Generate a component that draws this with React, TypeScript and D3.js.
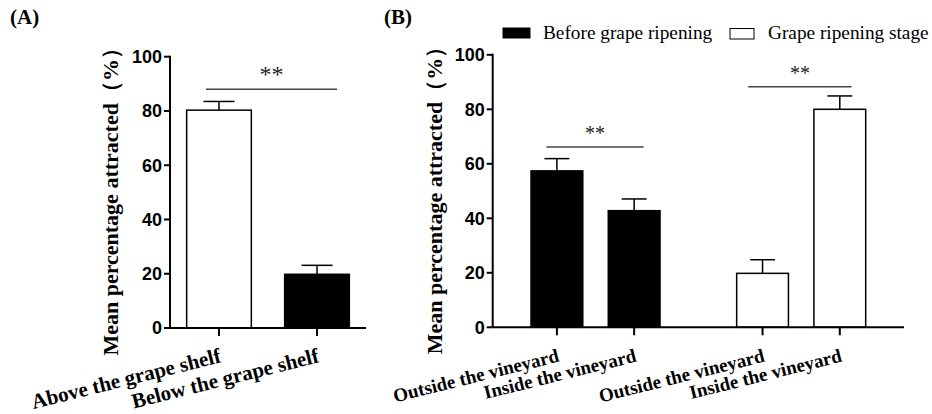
import * as d3 from 'd3';

// Panel A
const shelfCats = ['Above the grape shelf', 'Below the grape shelf'];
const shelfMeans = [80.3, 19.8];
const shelfErr = [3.2, 3.3];
const shelfFill = ['#fff', '#000'];

// Panel B
const stages = ['Before grape ripening', 'Grape ripening stage'];
const locations = ['Outside the vineyard', 'Inside the vineyard'];
const beforeMeans = [57.4, 42.8];
const beforeErr = [4.5, 4.3];
const ripeMeans = [19.8, 80.0];
const ripeErr = [5.0, 4.9];
const stageFill = ['#000', '#fff'];

const yTicks = [0, 20, 40, 60, 80, 100];

const SERIF = '"Liberation Serif", "Times New Roman", serif';
const SANS = '"Liberation Sans", Arial, sans-serif';

type Y = d3.ScaleLinear<number, number>;

function YAxis({ x0, y, labelX }: { x0: number; y: Y; labelX: number }) {
  return (
    <g>
      <line x1={x0} x2={x0} y1={y(100) - 1} y2={y(0)} stroke="#000" strokeWidth={2} />
      {yTicks.map(t => (
        <g key={t}>
          <line x1={x0 - 6} x2={x0} y1={y(t)} y2={y(t)} stroke="#000" strokeWidth={2} />
          <text x={x0 - 8} y={y(t)} dy="0.36em" textAnchor="end" fontFamily={SANS}
            fontWeight="bold" fontSize={18}>{t}</text>
        </g>
      ))}
      <text transform={`translate(${labelX},${(y(0) + y(100)) / 2 + 4}) rotate(-90)`}
        textAnchor="middle" fontFamily={SERIF} fontWeight="bold" fontSize={22}>
        Mean percentage attracted（%）
      </text>
    </g>
  );
}

function Bar({ cx, w, v, e, fill, y }: { cx: number; w: number; v: number; e: number; fill: string; y: Y }) {
  const cap = w * 0.24;
  return (
    <g>
      <line x1={cx} x2={cx} y1={y(v)} y2={y(v + e)} stroke="#000" strokeWidth={1.5} />
      <line x1={cx - cap} x2={cx + cap} y1={y(v + e)} y2={y(v + e)}
        stroke="#000" strokeWidth={1.5} />
      <rect x={cx - w / 2} y={y(v)} width={w} height={y(0) - y(v)} fill={fill}
        stroke="#000" strokeWidth={1.5} />
    </g>
  );
}

function XLabel({ cx, y0, text, size }: { cx: number; y0: number; text: string; size: number }) {
  return (
    <text transform={`translate(${cx + 3},${y0 + 34}) rotate(-14)`} textAnchor="end"
      fontFamily={SERIF} fontWeight="bold" fontSize={size}>{text}</text>
  );
}

function Sig({ x1, x2, yy, starY, size }: { x1: number; x2: number; yy: number; starY: number; size: number }) {
  return (
    <g>
      <line x1={x1} x2={x2} y1={yy} y2={yy} stroke="#444" strokeWidth={1.5} />
      <text x={(x1 + x2) / 2} y={starY} textAnchor="middle" fontFamily={SERIF}
        fontSize={size} fill="#222">**</text>
    </g>
  );
}

function PanelA() {
  const x0 = 170, x1 = 366;
  const y = d3.scaleLinear().domain([0, 100]).range([328, 56.7]);
  const x = d3.scalePoint<string>().domain(shelfCats).range([x0, x1]).padding(0.5);
  const w = x.step() * 0.66;
  const c0 = x(shelfCats[0])!, c1 = x(shelfCats[1])!;
  return (
    <g>
      <text x={10} y={24} fontFamily={SERIF} fontWeight="bold" fontSize={21}>(A)</text>
      {shelfCats.map((c, i) => (
        <Bar key={c} cx={x(c)!} w={w} v={shelfMeans[i]} e={shelfErr[i]} fill={shelfFill[i]} y={y} />
      ))}
      <line x1={x0} x2={x1} y1={y(0)} y2={y(0)} stroke="#000" strokeWidth={2} />
      {shelfCats.map(c => (
        <line key={c} x1={x(c)!} x2={x(c)!} y1={y(0)} y2={y(0) + 8} stroke="#000" strokeWidth={2} />
      ))}
      <YAxis x0={x0} y={y} labelX={118} />
      {shelfCats.map(c => <XLabel key={c} cx={x(c)!} y0={y(0)} text={c} size={21} />)}
      <Sig x1={c0 - 13} x2={c1 + 20} yy={y(88)} starY={82} size={24} />
    </g>
  );
}

function PanelB() {
  const x0 = 492.7, x1 = 904;
  const y = d3.scaleLinear().domain([0, 100]).range([327.3, 54.8]);
  const gx = d3.scaleBand<string>().domain(stages).range([x0, x1]);
  const ix = d3.scaleBand<string>().domain(locations).range([0, gx.bandwidth()])
    .paddingInner(0.33).paddingOuter(0.496);
  const w = ix.bandwidth();
  const cx = (s: string, l: string) => gx(s)! + ix(l)! + w / 2;
  const groups = [
    { s: stages[0], means: beforeMeans, err: beforeErr },
    { s: stages[1], means: ripeMeans, err: ripeErr },
  ];
  const legendBox = [
    { x: 503, y: 28, w: 27, h: 10, tx: 543 },
    { x: 730, y: 28.5, w: 24, h: 10.5, tx: 768 },
  ];
  return (
    <g>
      <text x={384} y={24} fontFamily={SERIF} fontWeight="bold" fontSize={21}>(B)</text>
      {stages.map((s, i) => (
        <g key={s}>
          <rect x={legendBox[i].x} y={legendBox[i].y} width={legendBox[i].w} height={legendBox[i].h}
            fill={stageFill[i]} stroke="#000" strokeWidth={1} />
          <text x={legendBox[i].tx} y={39} fontFamily={SERIF} fontSize={19.3}>{s}</text>
        </g>
      ))}
      {groups.map((g, gi) => locations.map((l, li) => (
        <Bar key={g.s + l} cx={cx(g.s, l)} w={w} v={g.means[li]} e={g.err[li]} fill={stageFill[gi]} y={y} />
      )))}
      <line x1={x0} x2={x1} y1={y(0)} y2={y(0)} stroke="#000" strokeWidth={2} />
      {stages.map(s => locations.map(l => (
        <line key={s + l} x1={cx(s, l)} x2={cx(s, l)} y1={y(0)} y2={y(0) + 8} stroke="#000" strokeWidth={2} />
      )))}
      <YAxis x0={x0} y={y} labelX={442} />
      {stages.map(s => locations.map(l => <XLabel key={s + l} cx={cx(s, l)} y0={y(0)} text={l} size={19} />))}
      <Sig x1={cx(stages[0], locations[0]) - 10.5} x2={cx(stages[0], locations[1]) + 9.5}
        yy={y(66.2)} starY={140} size={20} />
      <Sig x1={cx(stages[1], locations[0]) - 14.3} x2={cx(stages[1], locations[1]) + 11.7}
        yy={y(88.3)} starY={80} size={20} />
    </g>
  );
}

export default function App() {
  return (
    <svg width={932} height={414} style={{ position: 'absolute', left: 0, top: 0, background: '#fff' }}>
      <rect width={932} height={414} fill="#fff" />
      <PanelA />
      <PanelB />
    </svg>
  );
}
